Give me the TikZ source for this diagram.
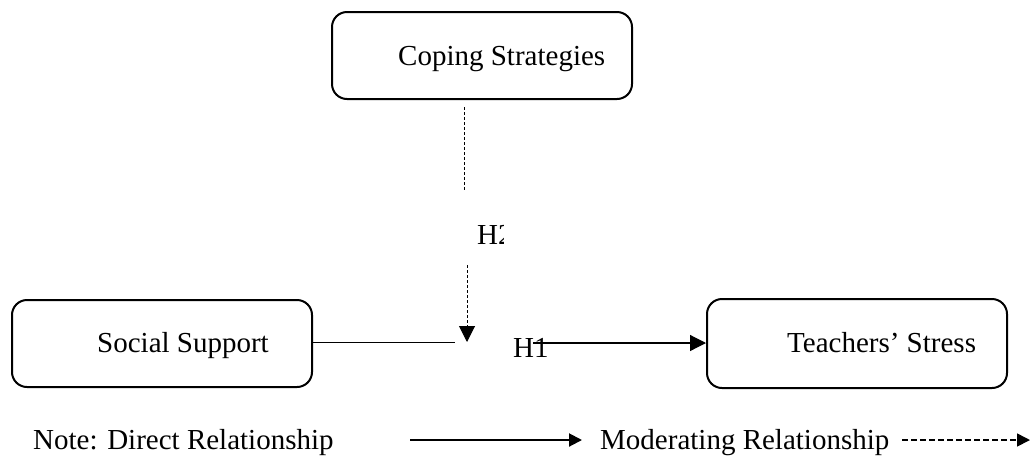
\documentclass[tikz,border=0pt]{standalone}
\usepackage{fontspec}
\setmainfont{Liberation Serif}
\usetikzlibrary{arrows.meta}
\tikzset{
  box/.style={draw, line width=2pt, rounded corners=15pt, minimum width=300pt, minimum height=87pt, inner sep=0pt},
  txt/.style={anchor=base west, inner sep=0pt, font=\fontsize{29}{34}\selectfont},
  solidln/.style={line width=1pt},
  dashln/.style={line width=1pt, dash pattern=on 3pt off 2pt},
  tipbig/.style={-{Triangle[length=16pt,width=16pt]}},
  tipleg/.style={-{Triangle[length=13pt,width=13pt]}},
}
\begin{document}
\begin{tikzpicture}[x=1pt,y=-1pt]
\useasboundingbox (0,0) rectangle (1030,456);
% boxes
\node[box] (cope) at (482,55.5) {};
\node[box] (soc) at (162,343.5) {};
\node[box, minimum height=89pt] (tea) at (857,343.5) {};
\node[txt] (copet) at (398,65) {Coping Strategies};
\node[txt] (soct) at (97,352) {Social Support};
\node[txt] (teat) at (787,352) {Teachers’ Stress};
% hypothesis labels
\node[txt] (h1) at (513,357) {H1};
\begin{scope}
\clip (470,215) rectangle (503,260);
\node[txt] (h2) at (477,244) {H2};
\end{scope}
% connectors
\coordinate (d1a) at (464,107);
\coordinate (d1b) at (464,191);
\coordinate (d2a) at (467,265);
\coordinate (d2b) at (467,342);
\coordinate (s1) at (455,342);
\coordinate (h1a) at (533,343);
\draw[dashln] (d1a) -- (d1b);
\draw[dashln, tipbig] (d2a) -- (d2b);
\draw[solidln] (soc.east |- s1) -- (s1);
\draw[solidln, line width=1.2pt, tipbig] (h1a) -- (tea.west |- h1a);
% legend
\node[txt] (note) at (33,449) {Note: Direct Relationship};
\node[txt] (mod) at (600,449) {Moderating Relationship};
\coordinate (la) at (410,440);
\coordinate (lb) at (582,440);
\coordinate (lc) at (902,440);
\coordinate (ld) at (1030,440);
\draw[line width=2pt, tipleg] (la) -- (lb);
\draw[line width=1.6pt, dash pattern=on 6pt off 3pt, tipleg] (lc) -- (ld);
\end{tikzpicture}
\end{document}
